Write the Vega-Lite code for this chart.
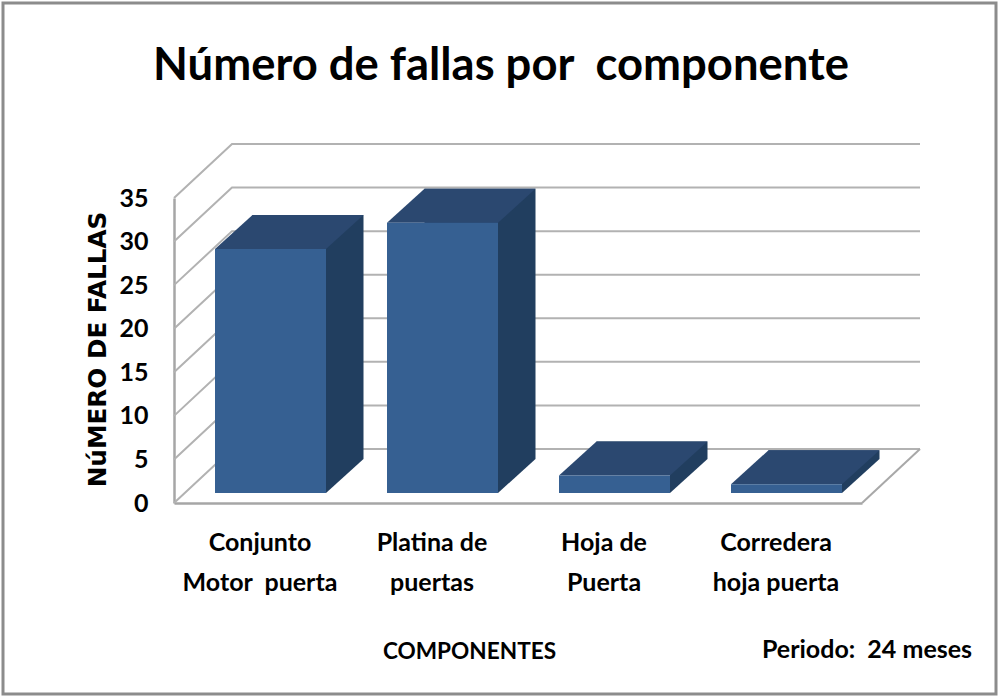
{
  "$schema": "https://vega.github.io/schema/vega-lite/v6.json",
  "width": 993,
  "height": 691,
  "autosize": "none",
  "padding": {"left": 3, "top": 3, "right": 2, "bottom": 2},
  "background": "white",
  "view": {"stroke": "#8c8c8c", "strokeWidth": 3, "fill": "white"},
  "title": {"text": "Número de fallas por \u00a0componente", "font": "Lato", "fontSize": 45.4, "fontWeight": "bold", "color": "black", "anchor": "middle", "baseline": "alphabetic", "offset": 0, "dy": 122, "dx": 1.5},
  "datasets": {
    "fallas": [
      {"componente": "Conjunto|Motor \u00a0puerta", "fallas": 28},
      {"componente": "Platina de|puertas", "fallas": 31},
      {"componente": "Hoja de|Puerta", "fallas": 2},
      {"componente": "Corredera|hoja puerta", "fallas": 1}
    ],
    "ticks": [{"tick": 0}, {"tick": 5}, {"tick": 10}, {"tick": 15}, {"tick": 20}, {"tick": 25}, {"tick": 30}, {"tick": 35}],
    "piso": [{"tick": 0}],
    "nota": [{"texto": "Periodo: \u00a024 meses", "nivel": -16.9}]
  },
  "layer": [
    {
      "data": {"name": "ticks"},
      "mark": {"type": "point", "shape": "M0,0L58,-54L746,-54", "size": 4, "filled": false, "stroke": "#b2b2b2", "strokeWidth": 2, "opacity": 1, "clip": false},
      "encoding": {
        "x": {"datum": "Conjunto|Motor \u00a0puerta", "bandPosition": 0, "type": "nominal", "scale": {"type": "band", "domain": ["Conjunto|Motor \u00a0puerta", "Platina de|puertas", "Hoja de|Puerta", "Corredera|hoja puerta"], "range": [171, 859], "paddingInner": 0, "paddingOuter": 0},
          "axis": {"title": "COMPONENTES", "offset": -191, "domainColor": "#a6a6a6", "domainWidth": 2.5, "ticks": false, "labelExpr": "split(datum.label,'|')", "labelAngle": 0, "labelFont": "Lato", "labelFontSize": 25, "labelFontWeight": "bold", "labelColor": "black", "labelPadding": 27, "labelLineHeight": 40, "labelLimit": 0, "titleFont": "Lato", "titleFontSize": 22.6, "titleFontWeight": "bold", "titleColor": "black", "titleX": 466, "titleY": 148, "titleBaseline": "middle", "titleAlign": "center"}},
        "y": {"field": "tick", "type": "quantitative", "scale": {"domain": [0, 35], "range": [500, 195], "nice": false, "zero": true},
          "axis": {"title": "NúMERO DE FALLAS", "offset": -171, "values": [0, 5, 10, 15, 20, 25, 30, 35], "domainColor": "#a6a6a6", "domainWidth": 2.5, "ticks": false, "grid": false, "labelFont": "Lato", "labelFontSize": 25, "labelFontWeight": "bold", "labelColor": "black", "labelPadding": 26, "titleFont": "DejaVu Sans", "titleFontSize": 24.7, "titleFontWeight": "bold", "titleColor": "black", "titleX": -76, "titleY": 346, "titleAlign": "center", "titleBaseline": "middle"}}
      }
    },
    {
      "data": {"name": "piso"},
      "mark": {"type": "point", "shape": "M688,0L746,-54", "size": 4, "filled": false, "stroke": "#a8a8a8", "strokeWidth": 2, "opacity": 1},
      "encoding": {
        "x": {"datum": "Conjunto|Motor \u00a0puerta", "bandPosition": 0, "type": "nominal"},
        "y": {"field": "tick", "type": "quantitative"}
      }
    },
    {
      "data": {"name": "fallas"},
      "mark": {"type": "bar", "width": 111, "color": "#213e5f", "xOffset": 48, "yOffset": -44, "y2Offset": -44},
      "encoding": {
        "x": {"field": "componente", "type": "nominal", "sort": null},
        "y": {"field": "fallas", "type": "quantitative", "stack": null},
        "y2": {"datum": 0}
      }
    },
    {
      "data": {"name": "fallas"},
      "mark": {"type": "point", "shape": "M66,-10L103.5,-44L66,-44Z", "size": 4, "filled": true, "color": "#213e5f", "opacity": 1},
      "encoding": {
        "x": {"field": "componente", "type": "nominal", "sort": null},
        "y": {"datum": 0, "type": "quantitative"}
      }
    },
    {
      "data": {"name": "fallas"},
      "mark": {"type": "point", "shape": "M-45,-10L66,-10L103.5,-44L-7.5,-44Z", "size": 4, "filled": true, "color": "#2b4870", "opacity": 1},
      "encoding": {
        "x": {"field": "componente", "type": "nominal", "sort": null},
        "y": {"field": "fallas", "type": "quantitative"}
      }
    },
    {
      "data": {"name": "fallas"},
      "mark": {"type": "bar", "width": 111, "color": "#366092", "xOffset": 10.5, "yOffset": -10, "y2Offset": -10},
      "encoding": {
        "x": {"field": "componente", "type": "nominal", "sort": null},
        "y": {"field": "fallas", "type": "quantitative", "stack": null},
        "y2": {"datum": 0}
      }
    },
    {
      "data": {"name": "nota"},
      "mark": {"type": "text", "font": "Lato", "fontSize": 25, "fontWeight": "bold", "color": "black", "align": "center", "baseline": "middle", "xOffset": 5},
      "encoding": {
        "x": {"datum": "Corredera|hoja puerta", "bandPosition": 1, "type": "nominal"},
        "y": {"field": "nivel", "type": "quantitative"},
        "text": {"field": "texto"}
      }
    }
  ]
}
